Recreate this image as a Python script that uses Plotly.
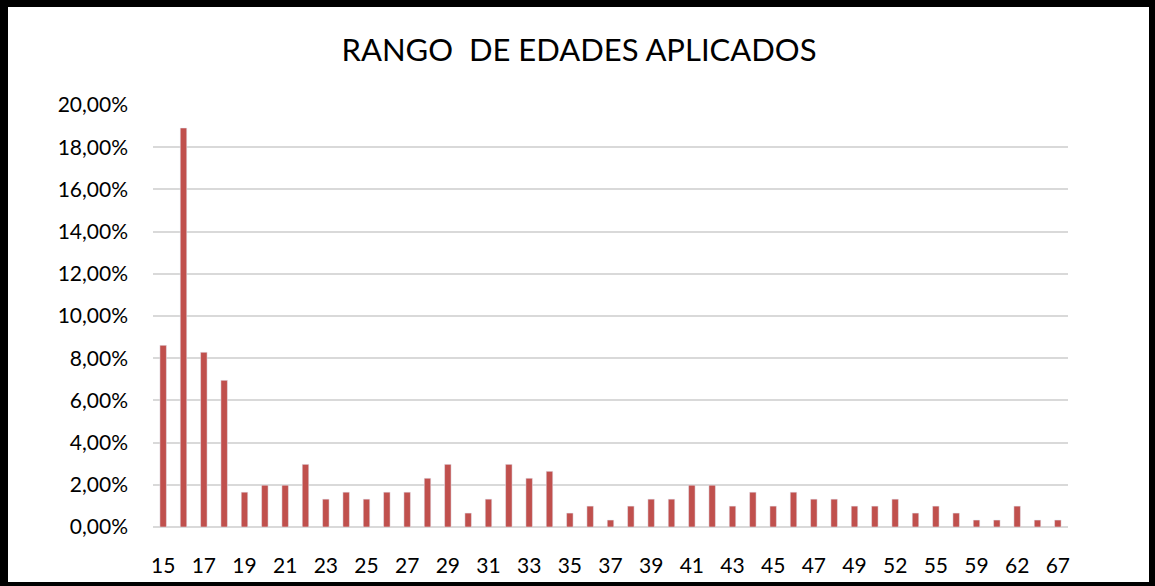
import plotly.graph_objects as go

ages = [str(a) for a in range(15, 50)] + ["50", "52", "53", "55", "57", "59", "60", "62", "64", "67"]
pct = [8.61, 18.91, 8.28, 6.95, 1.65, 1.98, 1.98, 2.97, 1.32, 1.65,
       1.32, 1.65, 1.65, 2.31, 2.97, 0.66, 1.32, 2.97, 2.31, 2.64,
       0.66, 0.99, 0.33, 0.99, 1.32, 1.32, 1.98, 1.98, 0.99, 1.65,
       0.99, 1.65, 1.32, 1.32, 0.99, 0.99, 1.32, 0.66, 0.99, 0.66,
       0.33, 0.33, 0.99, 0.33, 0.33]
values = [p / 100 for p in pct]
tick_labels = ages[::2]

fig = go.Figure(go.Bar(x=ages, y=values, marker_color="#C0504D", width=0.32))

W, H, L, B = 915, 422, 153, 59
def px(x):
    return (x - L) / W
def py(y):
    return (586 - B - y) / H

fig.update_layout(
    width=1155, height=586,
    margin=dict(l=L, r=1155 - L - W, t=586 - B - H, b=B, autoexpand=False),
    paper_bgcolor="white", plot_bgcolor="white",
    separators=",.",
    showlegend=False,
    title=dict(text="RANGO  DE EDADES APLICADOS", x=579 / 1155, xanchor="center",
               y=1 - 50 / 586, yanchor="middle",
               font=dict(family="Lato", size=31, color="black")),
    font=dict(family="Lato", color="black"),
    xaxis=dict(type="category", tickmode="array", tickvals=tick_labels, ticktext=tick_labels,
               tickfont=dict(size=21, color="black"), showgrid=False, showline=False,
               ticks="", ticklabelstandoff=24, automargin=False),
    yaxis=dict(range=[0, 0.2], dtick=0.02, tickformat=".2%", tickfont=dict(size=21, color="black"),
               gridcolor="#D9D9D9", gridwidth=1.5, zeroline=True, zerolinecolor="#D9D9D9",
               zerolinewidth=1.5, showline=False, ticks="", ticklabelstandoff=24, automargin=False),
    shapes=[
        dict(type="rect", xref="paper", yref="paper", x0=px(0), x1=px(8), y0=py(586), y1=py(0),
             fillcolor="black", line_width=0, layer="above"),
        dict(type="rect", xref="paper", yref="paper", x0=px(0), x1=px(1155), y0=py(7), y1=py(0),
             fillcolor="black", line_width=0, layer="above"),
        dict(type="rect", xref="paper", yref="paper", x0=px(1149), x1=px(1155), y0=py(586), y1=py(0),
             fillcolor="black", line_width=0, layer="above"),
        dict(type="rect", xref="paper", yref="paper", x0=px(0), x1=px(1155), y0=py(586), y1=py(582),
             fillcolor="black", line_width=0, layer="above"),
    ],
)

fig.write_html("out.html", config={"displayModeBar": False},
               post_script="document.body.style.margin='0';document.body.style.overflow='hidden';")
